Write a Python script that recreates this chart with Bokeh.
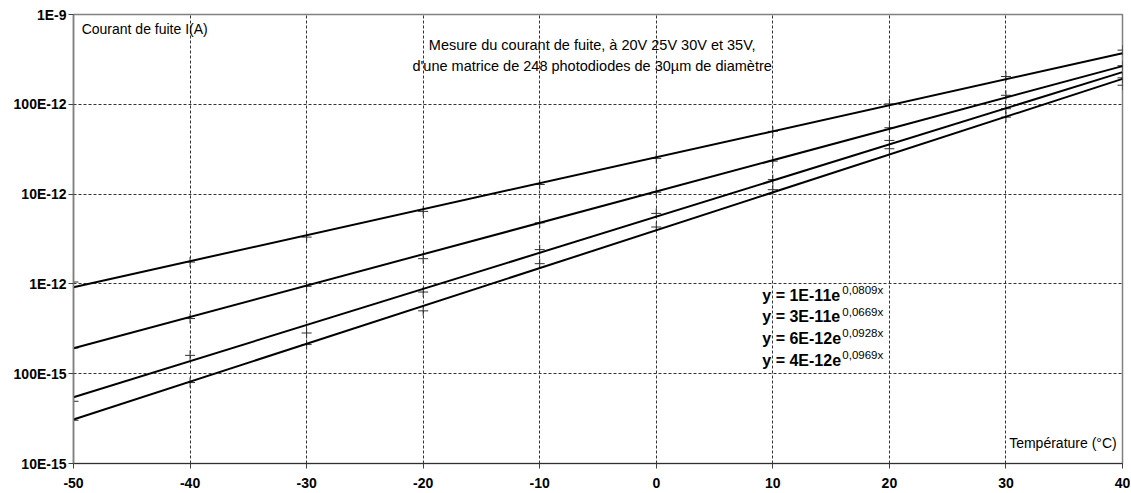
from bokeh.plotting import figure
from bokeh.models import Range1d, FixedTicker, Label
from bokeh.embed import file_html
from bokeh.resources import INLINE

# ---- data ----
temps = [-50, -40, -30, -20, -10, 0, 10, 20, 30, 40]
i_35v = [1.05e-12, 1.75e-12, 3.32e-12, 6.42e-12, 1.28e-11, 2.50e-11, 4.99e-11, 1.01e-10, 2.04e-10, 4.01e-10]
i_30v = [1.93e-13, 4.11e-13, 9.40e-13, 1.91e-12, 4.79e-12, 1.05e-11, 2.33e-11, 5.48e-11, 1.26e-10, 2.69e-10]
i_25v = [4.93e-14, 1.60e-13, 2.84e-13, 8.12e-13, 2.41e-12, 6.10e-12, 1.45e-11, 3.96e-11, 8.93e-11, 1.97e-10]
i_20v = [3.03e-14, 7.97e-14, 2.11e-13, 5.01e-13, 1.68e-12, 4.30e-12, 1.12e-11, 3.20e-11, 7.19e-11, 1.63e-10]
series = [i_35v, i_30v, i_25v, i_20v]

# exponential trend lines: value at first and last temperature
trend_start = [9.2e-13, 1.92e-13, 5.47e-14, 3.09e-14]
trend_end = [3.7e-10, 2.66e-10, 2.28e-10, 1.92e-10]

eq_main = ["y = 1E-11e", "y = 3E-11e", "y = 6E-12e", "y = 4E-12e"]
eq_exp = ["0,0809x", "0,0669x", "0,0928x", "0,0969x"]
eq_y = [7.46e-13, 4.28e-13, 2.48e-13, 1.41e-13]

y_ticks = [1e-14, 1e-13, 1e-12, 1e-11, 1e-10, 1e-9]
y_tick_labels = ["10E-15", "100E-15", "1E-12", "10E-12", "100E-12", "1E-9"]
x_ticks = temps
x_tick_labels = ["-50", "-40", "-30", "-20", "-10", "0", "10", "20", "30", "40"]

title_lines = ["Mesure du courant de fuite, à 20V 25V 30V et 35V,",
               "d'une matrice de 248 photodiodes de 30µm de diamètre"]
y_title = "Courant de fuite I(A)"
x_title = "Température (°C)"

FONT = "Liberation Sans"

p = figure(width=1130, height=493, y_axis_type="log",
           x_range=Range1d(-50, 40), y_range=Range1d(1e-14, 1e-9),
           output_backend="svg", toolbar_location=None,
           min_border_left=73, min_border_right=8, min_border_top=14, min_border_bottom=30)
p.background_fill_color = "white"
p.border_fill_color = "white"
p.outline_line_color = "#808080"
p.outline_line_width = 1.5

# axes
p.xaxis.ticker = FixedTicker(ticks=x_ticks)
p.xaxis.major_label_overrides = {t: l for t, l in zip(x_ticks, x_tick_labels)}
p.yaxis.ticker = FixedTicker(ticks=y_ticks)
p.yaxis.major_label_overrides = {t: l for t, l in zip(y_ticks, y_tick_labels)}
for ax in (p.xaxis, p.yaxis):
    ax.major_label_text_font = FONT
    ax.major_label_text_font_size = "14px"
    ax.major_label_text_font_style = "bold"
    ax.major_label_text_color = "black"
    ax.minor_tick_line_color = None
    ax.major_tick_in = 0
    ax.major_tick_line_color = "#404040"
p.yaxis.axis_line_color = "#808080"
p.yaxis.axis_line_width = 1.5
p.yaxis.major_tick_out = 5
p.yaxis.major_label_standoff = 2
p.xaxis.axis_line_color = "#303030"
p.xaxis.major_tick_out = 5
p.xaxis.major_label_standoff = 9

# grid
for g in (p.xgrid, p.ygrid):
    g.grid_line_color = "#333333"
    g.grid_line_dash = "3 2"
    g.grid_line_width = 1
p.ygrid.ticker = FixedTicker(ticks=y_ticks)
p.xgrid.ticker = FixedTicker(ticks=x_ticks)

# data markers
for s in series:
    p.scatter(temps, s, marker="cross", size=10, line_color="#303030", line_width=1)

# trend lines
for a, b in zip(trend_start, trend_end):
    p.line([temps[0], temps[-1]], [a, b], line_color="black", line_width=2)

# equations
for m, e, y in zip(eq_main, eq_exp, eq_y):
    p.add_layout(Label(x=9.1, y=y, text=m, text_font=FONT, text_font_size="16px",
                       text_font_style="bold", text_baseline="middle", text_color="black"))
    p.add_layout(Label(x=9.1, y=y * 1.15, x_offset=80, text=e, text_font=FONT,
                       text_font_size="11.5px", text_baseline="middle", text_color="black"))

# titles
p.add_layout(Label(x=-5.5, y=4.52e-10, text=title_lines[0], text_font=FONT, text_font_size="14.5px",
                   text_align="center", text_baseline="middle", text_color="black"))
p.add_layout(Label(x=-5.5, y=2.70e-10, text=title_lines[1], text_font=FONT, text_font_size="14.5px",
                   text_align="center", text_baseline="middle", text_color="black"))
p.add_layout(Label(x=-49.3, y=6.98e-10, text=y_title, text_font=FONT, text_font_size="14px",
                   text_align="left", text_baseline="middle", text_color="black"))
p.add_layout(Label(x=39.5, y=1.68e-14, text=x_title, text_font=FONT, text_font_size="14px",
                   text_align="right", text_baseline="middle", text_color="black"))

open("out.html", "w").write(file_html(p, INLINE))
